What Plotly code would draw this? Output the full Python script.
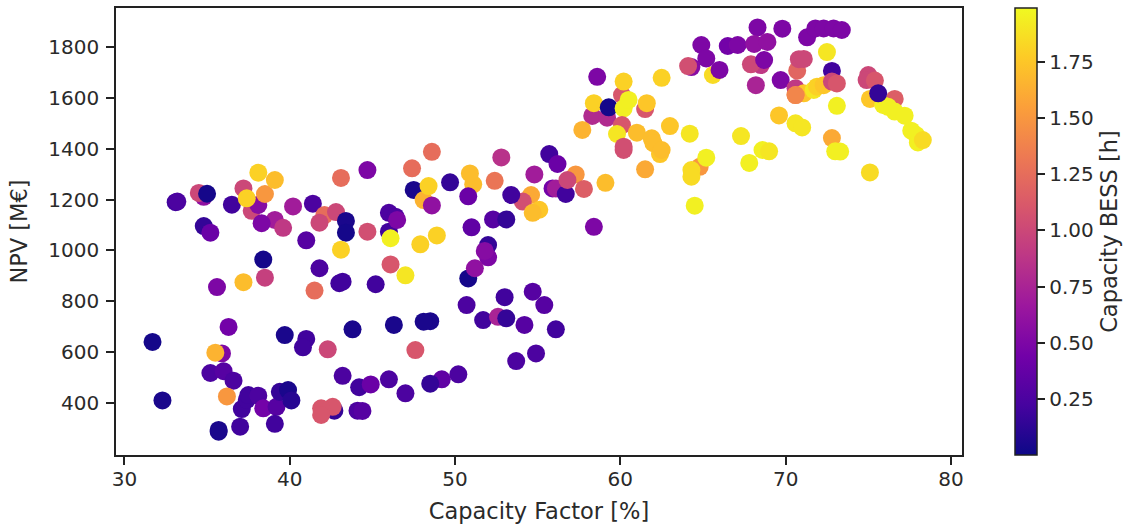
import plotly.graph_objects as go

capacity_factor = [
 33.1,33.2,34.8,34.5,35.0,36.5,37.7,38.1,38.5,37.2,37.4,38.1,39.1,39.1,38.3,39.6,40.2,41.4,42.1,42.8,41.8,43.4,43.4,44.7,
 34.8,35.2,41.0,43.1,38.4,41.8,38.5,37.2,35.6,41.5,43.0,43.2,45.2,46.1,47.0,46.0,46.0,46.4,46.5,46.1,44.7,43.1,47.4,47.5,
 48.6,48.1,48.4,48.6,49.7,51.1,50.9,52.4,50.8,52.8,55.7,56.2,54.8,57.3,55.9,56.1,56.7,57.8,56.8,59.1,54.6,54.1,53.4,55.1,54.7,52.3,53.1,51.0,58.4,
 52.0,52.0,51.8,50.8,51.2,47.9,48.9,50.7,53.0,54.7,55.4,61.5,62.4,60.2,64.8,64.3,64.3,
 48.5,48.1,46.3,47.6,51.7,52.6,53.1,54.2,56.1,53.7,54.9,50.2,49.2,48.5,47.0,
 31.7,32.3,36.3,35.9,35.5,35.2,36.0,36.6,36.2,37.0,35.7,35.7,37.1,37.4,37.5,38.1,38.4,39.2,39.1,39.4,39.9,40.1,39.7,41.0,40.8,42.3,43.8,
 43.2,44.2,44.9,46.0,42.7,42.6,41.9,41.9,44.1,44.4,
 58.6,60.1,60.2,62.5,58.3,59.2,58.4,59.3,61.5,61.6,60.2,60.5,60.1,57.7,59.8,61.0,61.9,62.0,63.0,64.2,60.2,62.5,67.3,65.2,
 64.3,64.1,65.6,64.9,65.2,66.0,66.5,67.1,68.3,69.8,68.1,68.9,68.5,67.9,68.7,68.2,69.7,71.3,71.8,72.3,72.9,73.4,72.5,
 70.6,71.1,71.7,71.9,72.3,70.6,70.7,70.8,71.1,70.6,72.8,72.8,73.1,73.1,
 75.1,75.0,74.9,75.4,76.6,75.9,76.2,76.6,77.2,77.6,77.9,78.0,78.3,75.6,
 69.6,70.6,71.0,67.8,68.6,69.0,72.8,73.0,73.3,75.1,64.5,
]
npv = [
 1190,1192,1211,1226,1223,1180,1156,1179,1222,1244,1205,1306,1277,1120,1107,1089,1173,1184,1139,1151,1109,1116,1070,1074,
 1096,1070,1040,1003,964,930,893,875,856,842,871,877,867,945,902,1074,1148,1133,1120,1048,1316,1285,1323,1238,
 1388,1198,1253,1177,1268,1260,1303,1274,1213,1366,1379,1340,1299,1299,1244,1244,1222,1242,1277,1266,1218,1192,1218,1160,1148,1122,1122,1091,1093,
 1021,973,998,890,930,1024,1059,785,816,838,785,1319,1379,1395,1329,1316,1290,
 722,720,707,608,726,739,733,707,690,565,595,513,493,476,438,
 640,410,699,595,598,518,525,488,426,307,287,294,376,412,431,429,379,385,318,444,451,410,667,652,619,611,690,
 507,462,473,493,370,385,379,353,370,369,
 1683,1611,1664,1679,1529,1522,1579,1563,1556,1579,1559,1592,1493,1474,1458,1463,1441,1422,1489,1459,1408,1395,1450,1365,
 1721,1725,1690,1808,1755,1710,1804,1808,1877,1872,1812,1820,1729,1732,1749,1650,1670,1838,1873,1873,1873,1867,1780,
 1638,1618,1631,1644,1650,1611,1707,1752,1753,1611,1706,1664,1657,1569,
 1596,1690,1670,1668,1596,1572,1565,1546,1530,1471,1454,1425,1434,1618,
 1531,1500,1484,1344,1395,1390,1442,1390,1389,1307,1176,
]
capacity_bess = [
 .20,.25,.60,1.00,.03,.20,1.00,.55,1.50,1.00,1.80,1.80,1.70,.70,.50,.90,.70,.25,1.25,1.00,1.00,.05,.03,1.05,
 .15,.40,.30,1.80,.03,.25,.95,1.70,.50,1.25,.20,.20,.20,1.10,1.90,.20,.25,.25,.50,1.95,.50,1.25,1.25,.05,
 1.25,1.65,1.80,.60,.15,1.70,1.70,1.30,.40,.85,.20,.40,.70,1.50,.45,.70,.20,1.15,1.00,1.70,1.60,1.05,.20,1.75,1.70,.30,.15,.35,.50,
 .15,.50,.55,.03,.60,1.80,1.80,.25,.20,.30,.30,1.60,1.75,1.05,1.50,1.85,1.85,
 .05,.05,.05,1.10,.20,.75,.15,.30,.20,.25,.25,.25,.35,.15,.25,
 .03,.05,.45,.50,1.65,.25,.30,.25,1.50,.20,.05,.05,.20,.20,.20,.25,.45,.30,.20,.15,.05,.10,.05,.20,.20,1.00,.05,
 .25,.20,.40,.25,.15,1.10,1.10,1.10,.25,.30,
 .50,1.10,1.80,1.80,.80,.80,1.80,.03,1.10,1.75,1.95,1.95,1.10,1.65,1.90,1.70,1.70,1.70,1.75,1.90,1.05,1.70,1.90,1.95,
 .55,1.05,1.85,.50,.50,.50,.45,.50,.50,.50,.60,.60,.90,1.00,.50,.75,.50,.50,.50,.50,.50,.50,1.90,
 .90,1.75,1.90,1.80,1.75,1.40,1.20,1.00,1.00,1.40,.20,1.00,1.10,1.95,
 1.75,1.00,1.00,1.10,1.15,1.95,1.95,1.95,1.95,1.95,1.95,1.95,1.85,.15,
 1.75,1.90,1.90,1.95,1.95,1.90,1.60,1.95,1.95,1.85,1.95,
]
x_ticks = [30, 40, 50, 60, 70, 80]
y_ticks = [400, 600, 800, 1000, 1200, 1400, 1600, 1800]
bar_ticks = [0.25, 0.50, 0.75, 1.00, 1.25, 1.50, 1.75]

INK = "#2a2a2a"
tick_font = dict(family="DejaVu Sans", size=20, color=INK)
title_font = dict(family="DejaVu Sans", size=22.5, color=INK)

fig = go.Figure(go.Scatter(
    x=capacity_factor, y=npv, mode="markers",
    marker=dict(
        size=18, color=capacity_bess, colorscale="Plasma", cmin=0.0, cmax=1.99,
        line=dict(width=0), opacity=1,
        colorbar=dict(
            title=dict(text="Capacity BESS [h]", side="right", font=title_font),
            tickvals=bar_ticks, tickformat=".2f", tickprefix="\u00a0\u00a0", ticks="outside",
            ticklen=8, tickwidth=1.5, tickcolor="#222", tickfont=tick_font,
            thickness=22, thicknessmode="pixels", len=1, lenmode="fraction",
            x=1.0626, xanchor="left", xpad=0, y=0.5, yanchor="middle", ypad=0,
            outlinewidth=1.5, outlinecolor="#222", borderwidth=0,
        ),
    ),
    hoverinfo="skip",
))
axis = dict(showgrid=False, zeroline=False, showline=True, linecolor="#222", linewidth=1.5,
            mirror=True, ticks="outside", ticklen=8, tickwidth=1.5, tickcolor="#222", tickfont=tick_font,
            automargin=False)
fig.update_layout(
    width=1129, height=525, margin=dict(l=116, r=167, t=8, b=70, autoexpand=False),
    paper_bgcolor="white", plot_bgcolor="white", font=tick_font, showlegend=False,
    xaxis=dict(axis, range=[29.49, 80.67], tickvals=x_ticks, ticklabelstandoff=-3,
               title=dict(text="Capacity Factor [%]", font=title_font, standoff=13)),
    yaxis=dict(axis, range=[195.5, 1953.5], tickvals=y_ticks, ticklabelstandoff=3,
               title=dict(text="NPV [M€]", font=title_font, standoff=14)),
)
fig.write_html("out.html", config={"displayModeBar": False},
               post_script="document.body.style.margin='0';")
